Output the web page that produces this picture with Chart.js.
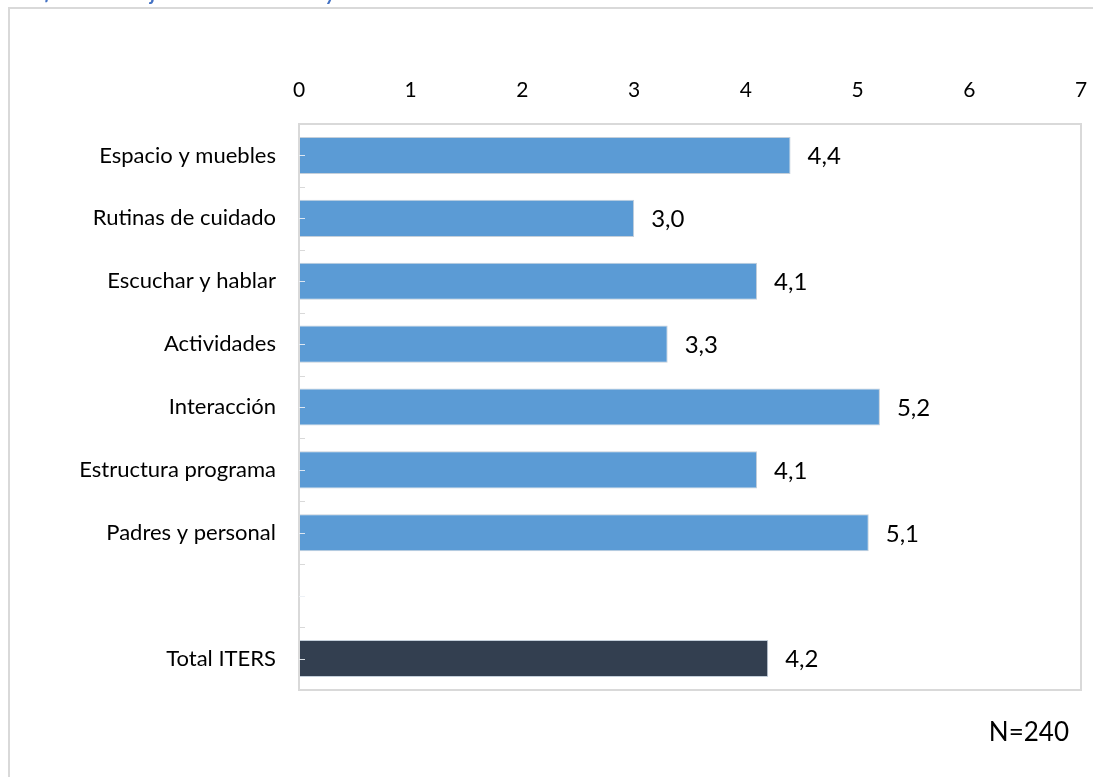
<!DOCTYPE html>
<html>
<head>
<meta charset="utf-8">
<script src="https://cdn.jsdelivr.net/npm/chart.js@4/dist/chart.umd.min.js"></script>
<style>
  html, body { margin: 0; padding: 0; background: #fff; }
  #chart-container { width: 1093px; height: 777px; }
</style>
</head>
<body>
<div id="chart-container"><canvas id="itersChart" width="1093" height="777"></canvas></div>
<script>
// ITERS subscale scores
const categories = [
  "Espacio y muebles",
  "Rutinas de cuidado",
  "Escuchar y hablar",
  "Actividades",
  "Interacción",
  "Estructura programa",
  "Padres y personal",
  "",
  "Total ITERS",
];
const scores = [4.4, 3.0, 4.1, 3.3, 5.2, 4.1, 5.1, null, 4.2];
const xTicks = [0, 1, 2, 3, 4, 5, 6, 7];
const titleText = "Gráfico 7. Puntaje de cada subescala y escala total";
const noteText = "N=240";

const FONT = "Lato, 'Open Sans', sans-serif";
const BLUE = "#5B9BD5";
const DARK = "#333F50";
const LIGHT_GREY = "#D9D9D9";

const barColors = categories.map((c) => (c === "Total ITERS" ? DARK : BLUE));

// Outer frame, cut title, plot border, inner tick marks, value labels, footnote
const decorations = {
  id: "decorations",
  beforeDraw(chart) {
    const ctx = chart.ctx;
    ctx.save();
    ctx.fillStyle = "#fff";
    ctx.fillRect(0, 0, chart.width, chart.height);
    // title runs off the top edge
    ctx.font = "italic bold 20px " + FONT;
    ctx.fillStyle = "#4472C4";
    ctx.textBaseline = "alphabetic";
    ctx.fillText(titleText, 14, 0);
    // frame
    ctx.strokeStyle = LIGHT_GREY;
    ctx.lineWidth = 2;
    ctx.beginPath();
    ctx.moveTo(9, chart.height + 5);
    ctx.lineTo(9, 8);
    ctx.lineTo(chart.width + 5, 8);
    ctx.stroke();
    ctx.restore();
  },
  afterDatasetsDraw(chart) {
    const ctx = chart.ctx;
    const area = chart.chartArea;
    const y = chart.scales.y;
    const x = chart.scales.x;
    ctx.save();
    // plot border
    ctx.strokeStyle = LIGHT_GREY;
    ctx.lineWidth = 2;
    ctx.strokeRect(area.left, area.top, area.right - area.left, area.bottom - area.top);
    // small tick marks every half category on the left edge
    const step = (area.bottom - area.top) / categories.length / 2;
    ctx.lineWidth = 1;
    for (let i = 1; i < categories.length * 2; i++) {
      const ty = Math.round(area.top + i * step) + 0.5;
      ctx.strokeStyle = i % 2 === 1 ? "rgba(235,240,245,0.9)" : LIGHT_GREY;
      ctx.beginPath();
      ctx.moveTo(area.left, ty);
      ctx.lineTo(area.left + 6, ty);
      ctx.stroke();
    }
    // value labels
    ctx.font = "24px " + FONT;
    ctx.fillStyle = "#000";
    ctx.textBaseline = "middle";
    ctx.textAlign = "left";
    scores.forEach((v, i) => {
      if (v === null) return;
      const px = x.getPixelForValue(v);
      const py = y.getPixelForValue(i);
      ctx.fillText(v.toFixed(1).replace(".", ","), px + 17, py + 1);
    });
    // sample size
    ctx.font = "26px " + FONT;
    ctx.textAlign = "right";
    ctx.fillText(noteText, 1069, 733);
    ctx.restore();
  },
};

const ctx = document.getElementById("itersChart").getContext("2d");

new Chart(ctx, {
  type: "bar",
  data: {
    labels: categories,
    datasets: [
      {
        data: scores,
        backgroundColor: barColors,
        borderColor: "#C4CFDA",
        borderWidth: 1,
        borderSkipped: false,
        barPercentage: 0.59,
        categoryPercentage: 1,
      },
    ],
  },
  options: {
    indexAxis: "y",
    responsive: false,
    animation: false,
    layout: {
      padding: { top: 0, right: 12, bottom: 87, left: 0 },
    },
    plugins: {
      legend: { display: false },
      tooltip: { enabled: false },
    },
    scales: {
      x: {
        position: "top",
        min: 0,
        max: 7,
        afterBuildTicks(scale) {
          scale.ticks = xTicks.map((v) => ({ value: v }));
        },
        afterFit(scale) {
          scale.height = 124;
          scale.paddingLeft = 0;
          scale.paddingRight = 0;
        },
        grid: { display: false, drawTicks: false },
        border: { display: false },
        ticks: {
          padding: 21,
          color: "#000",
          font: { family: FONT, size: 21 },
        },
      },
      y: {
        afterFit(scale) {
          scale.width = 299;
        },
        grid: { display: false, drawTicks: false },
        border: { display: false },
        ticks: {
          padding: 23,
          color: "#000",
          autoSkip: false,
          font: { family: FONT, size: 22 },
        },
      },
    },
  },
  plugins: [decorations],
});
</script>
</body>
</html>
